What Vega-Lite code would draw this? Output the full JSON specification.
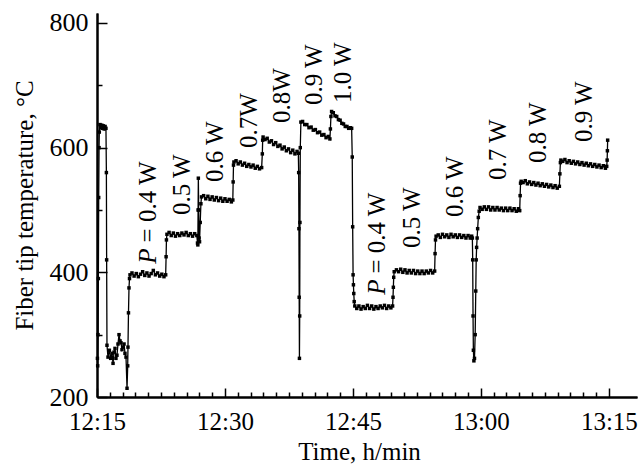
{
  "$schema": "https://vega.github.io/schema/vega-lite/v6.json",
  "width": 540,
  "height": 384,
  "autosize": {"type": "none"},
  "padding": {"left": 97, "top": 13, "right": 3, "bottom": 69},
  "background": "white",
  "config": {
    "view": {"stroke": null},
    "axis": {
      "grid": false,
      "domainColor": "black",
      "domainWidth": 2,
      "tickColor": "black",
      "tickWidth": 1.5,
      "labelFont": "Liberation Serif",
      "labelFontSize": 25,
      "labelColor": "black",
      "titleFont": "Liberation Serif",
      "titleFontSize": 25,
      "titleFontWeight": "normal",
      "titleColor": "black",
      "labelOverlap": false,
      "labelFlush": false,
      "labelBound": false
    }
  },
  "resolve": {"axis": {"x": "independent", "y": "independent"}},
  "datasets": {
    "series": [
      {"t":15.05,"T":262},{"t":15.08,"T":250},{"t":15.12,"T":300},{"t":15.16,"T":390},{"t":15.2,"T":520},{"t":15.24,"T":600},
      {"t":15.27,"T":625},{"t":15.35,"T":637},{"t":15.45,"T":632},{"t":15.55,"T":636},{"t":15.65,"T":631},{"t":15.75,"T":635},{"t":15.85,"T":630},{"t":15.95,"T":634},{"t":16.05,"T":631},
      {"t":16.1,"T":560},{"t":16.13,"T":420},{"t":16.17,"T":283},{"t":16.29,"T":264},{"t":16.45,"T":275},{"t":16.6,"T":262},{"t":16.76,"T":270},{"t":16.88,"T":254},{"t":17.0,"T":272},{"t":17.11,"T":278},{"t":17.22,"T":262},{"t":17.34,"T":267},{"t":17.46,"T":285},{"t":17.58,"T":300},{"t":17.7,"T":290},{"t":17.81,"T":287},{"t":17.93,"T":276},{"t":18.05,"T":280},{"t":18.17,"T":285},{"t":18.28,"T":270},{"t":18.4,"T":264},{"t":18.52,"T":214},{"t":18.6,"T":250},{"t":18.63,"T":280},{"t":18.69,"T":335},{"t":18.75,"T":375},{"t":18.81,"T":390},{"t":18.87,"T":396},
      {"t":19.1,"T":399},{"t":19.35,"T":394},{"t":19.6,"T":398},{"t":19.85,"T":393},{"t":20.1,"T":397},{"t":20.35,"T":401},{"t":20.6,"T":395},{"t":20.85,"T":399},{"t":21.1,"T":394},{"t":21.35,"T":398},{"t":21.6,"T":403},{"t":21.85,"T":396},{"t":22.1,"T":399},{"t":22.35,"T":394},{"t":22.6,"T":397},{"t":22.85,"T":393},{"t":23.05,"T":396},
      {"t":23.1,"T":425},{"t":23.14,"T":452},{"t":23.2,"T":461},
      {"t":23.45,"T":464},{"t":23.7,"T":459},{"t":23.95,"T":463},{"t":24.2,"T":458},{"t":24.45,"T":462},{"t":24.7,"T":459},{"t":24.95,"T":463},{"t":25.2,"T":460},{"t":25.45,"T":464},{"t":25.7,"T":459},{"t":25.95,"T":462},{"t":26.2,"T":458},{"t":26.45,"T":462},{"t":26.7,"T":459},
      {"t":26.78,"T":447},{"t":26.82,"T":444},{"t":26.85,"T":500},{"t":26.88,"T":551},{"t":26.92,"T":500},{"t":26.97,"T":455},{"t":27.02,"T":449},{"t":27.1,"T":480},{"t":27.18,"T":510},{"t":27.25,"T":521},
      {"t":27.5,"T":523},{"t":27.75,"T":518},{"t":28.0,"T":522},{"t":28.25,"T":517},{"t":28.5,"T":521},{"t":28.75,"T":516},{"t":29.0,"T":520},{"t":29.25,"T":515},{"t":29.5,"T":519},{"t":29.75,"T":514},{"t":30.0,"T":518},{"t":30.25,"T":514},{"t":30.5,"T":517},{"t":30.75,"T":513},{"t":30.92,"T":516},
      {"t":30.96,"T":545},{"t":31.0,"T":572},{"t":31.05,"T":577},
      {"t":31.3,"T":579},{"t":31.55,"T":574},{"t":31.8,"T":577},{"t":32.05,"T":572},{"t":32.3,"T":575},{"t":32.55,"T":570},{"t":32.8,"T":573},{"t":33.05,"T":569},{"t":33.3,"T":572},{"t":33.55,"T":567},{"t":33.8,"T":570},{"t":34.05,"T":566},{"t":34.3,"T":568},
      {"t":34.38,"T":590},{"t":34.42,"T":612},{"t":34.47,"T":617},
      {"t":34.7,"T":613},{"t":34.95,"T":615},{"t":35.2,"T":609},{"t":35.45,"T":611},{"t":35.7,"T":605},{"t":35.95,"T":608},{"t":36.2,"T":602},{"t":36.45,"T":604},{"t":36.7,"T":598},{"t":36.95,"T":601},{"t":37.2,"T":595},{"t":37.45,"T":598},{"t":37.7,"T":592},{"t":37.95,"T":596},{"t":38.2,"T":590},{"t":38.45,"T":594},{"t":38.6,"T":591},
      {"t":38.64,"T":560},{"t":38.67,"T":470},{"t":38.7,"T":360},{"t":38.73,"T":262},{"t":38.76,"T":330},{"t":38.79,"T":480},{"t":38.83,"T":600},{"t":38.9,"T":641},
      {"t":39.1,"T":642},{"t":39.35,"T":637},{"t":39.6,"T":637},{"t":39.85,"T":632},{"t":40.1,"T":633},{"t":40.35,"T":628},{"t":40.6,"T":629},{"t":40.85,"T":624},{"t":41.1,"T":625},{"t":41.35,"T":620},{"t":41.6,"T":621},{"t":41.85,"T":616},{"t":42.1,"T":618},{"t":42.3,"T":614},
      {"t":42.36,"T":630},{"t":42.42,"T":650},{"t":42.5,"T":658},
      {"t":42.7,"T":656},{"t":42.9,"T":651},{"t":43.1,"T":650},{"t":43.3,"T":645},{"t":43.5,"T":644},{"t":43.7,"T":639},{"t":43.9,"T":638},{"t":44.1,"T":634},{"t":44.3,"T":634},{"t":44.5,"T":631},{"t":44.7,"T":632},{"t":44.85,"T":631},
      {"t":44.92,"T":585},{"t":44.97,"T":473},{"t":45.02,"T":396},{"t":45.06,"T":380},{"t":45.1,"T":366},{"t":45.15,"T":353},{"t":45.22,"T":346},
      {"t":45.45,"T":342},{"t":45.7,"T":346},{"t":45.95,"T":341},{"t":46.2,"T":345},{"t":46.45,"T":342},{"t":46.7,"T":347},{"t":46.95,"T":342},{"t":47.2,"T":346},{"t":47.45,"T":341},{"t":47.7,"T":345},{"t":47.95,"T":342},{"t":48.2,"T":346},{"t":48.45,"T":343},{"t":48.7,"T":347},{"t":48.95,"T":342},{"t":49.2,"T":346},{"t":49.45,"T":343},{"t":49.65,"T":346},
      {"t":49.7,"T":360},{"t":49.74,"T":376},{"t":49.78,"T":392},{"t":49.84,"T":401},
      {"t":50.1,"T":404},{"t":50.35,"T":401},{"t":50.6,"T":405},{"t":50.85,"T":400},{"t":51.1,"T":404},{"t":51.35,"T":399},{"t":51.6,"T":403},{"t":51.85,"T":399},{"t":52.1,"T":403},{"t":52.35,"T":398},{"t":52.6,"T":402},{"t":52.85,"T":398},{"t":53.1,"T":402},{"t":53.35,"T":398},{"t":53.6,"T":402},{"t":53.85,"T":399},{"t":54.1,"T":403},{"t":54.35,"T":399},{"t":54.58,"T":402},
      {"t":54.63,"T":430},{"t":54.68,"T":452},{"t":54.75,"T":458},
      {"t":55.0,"T":460},{"t":55.25,"T":456},{"t":55.5,"T":461},{"t":55.75,"T":457},{"t":56.0,"T":460},{"t":56.25,"T":456},{"t":56.5,"T":461},{"t":56.75,"T":457},{"t":57.0,"T":460},{"t":57.25,"T":456},{"t":57.5,"T":460},{"t":57.75,"T":456},{"t":58.0,"T":459},{"t":58.25,"T":455},{"t":58.5,"T":459},{"t":58.75,"T":455},{"t":58.92,"T":458},
      {"t":59.0,"T":455},{"t":59.04,"T":420},{"t":59.08,"T":330},{"t":59.12,"T":275},{"t":59.18,"T":258},{"t":59.25,"T":262},{"t":59.33,"T":300},{"t":59.4,"T":370},{"t":59.45,"T":420},{"t":59.5,"T":440},{"t":59.56,"T":455},{"t":59.62,"T":470},{"t":59.7,"T":488},{"t":59.8,"T":498},{"t":59.9,"T":504},
      {"t":60.15,"T":501},{"t":60.4,"T":505},{"t":60.65,"T":501},{"t":60.9,"T":505},{"t":61.15,"T":500},{"t":61.4,"T":504},{"t":61.65,"T":500},{"t":61.9,"T":504},{"t":62.15,"T":500},{"t":62.4,"T":503},{"t":62.65,"T":499},{"t":62.9,"T":503},{"t":63.15,"T":499},{"t":63.4,"T":503},{"t":63.65,"T":499},{"t":63.9,"T":502},{"t":64.15,"T":498},{"t":64.4,"T":502},{"t":64.55,"T":499},
      {"t":64.6,"T":523},{"t":64.65,"T":543},{"t":64.72,"T":546},
      {"t":64.95,"T":544},{"t":65.2,"T":547},{"t":65.45,"T":542},{"t":65.7,"T":545},{"t":65.95,"T":541},{"t":66.2,"T":544},{"t":66.45,"T":540},{"t":66.7,"T":543},{"t":66.95,"T":539},{"t":67.2,"T":542},{"t":67.45,"T":538},{"t":67.7,"T":541},{"t":67.95,"T":537},{"t":68.2,"T":540},{"t":68.45,"T":536},{"t":68.7,"T":539},{"t":68.95,"T":535},{"t":69.2,"T":538},
      {"t":69.26,"T":558},{"t":69.32,"T":576},{"t":69.38,"T":580},
      {"t":69.6,"T":578},{"t":69.85,"T":581},{"t":70.1,"T":576},{"t":70.35,"T":579},{"t":70.6,"T":575},{"t":70.85,"T":578},{"t":71.1,"T":574},{"t":71.35,"T":577},{"t":71.6,"T":573},{"t":71.85,"T":576},{"t":72.1,"T":572},{"t":72.35,"T":575},{"t":72.6,"T":571},{"t":72.85,"T":574},{"t":73.1,"T":570},{"t":73.35,"T":573},{"t":73.6,"T":569},{"t":73.85,"T":572},{"t":74.1,"T":568},{"t":74.35,"T":571},{"t":74.6,"T":567},{"t":74.75,"T":570},
      {"t":74.8,"T":580},{"t":74.83,"T":595},{"t":74.86,"T":612}
    ],
    "labels": [
      {"x":21.9,"y":448,"label":"= 0.4 W","prefix":"P"},
      {"x":25.9,"y":492,"label":"0.5 W","prefix":""},
      {"x":29.77,"y":545,"label":"0.6 W","prefix":""},
      {"x":33.75,"y":599.5,"label":"0.7W","prefix":""},
      {"x":37.62,"y":639.6,"label":"0.8W","prefix":""},
      {"x":41.37,"y":668.5,"label":"0.9 W","prefix":""},
      {"x":44.77,"y":671.7,"label":"1.0 W","prefix":""},
      {"x":48.75,"y":398,"label":"= 0.4 W","prefix":"P"},
      {"x":52.85,"y":439,"label":"0.5 W","prefix":""},
      {"x":57.89,"y":488.8,"label":"0.6 W","prefix":""},
      {"x":62.93,"y":548,"label":"0.7 W","prefix":""},
      {"x":67.62,"y":575.4,"label":"0.8 W","prefix":""},
      {"x":73.01,"y":609,"label":"0.9 W","prefix":""}
    ]
  },
  "layer": [
    {
      "data": {"name": "series"},
      "mark": {"type": "line", "color": "black", "strokeWidth": 1.3, "point": {"filled": true, "shape": "square", "size": 12, "color": "black"}},
      "encoding": {
        "x": {
          "field": "t", "type": "quantitative",
          "scale": {"domain": [15, 78.3], "nice": false, "zero": false},
          "axis": {
            "orient": "bottom",
            "title": null,
            "values": [16.5,18,19.5,21,22.5,24,25.5,27,28.5,31.5,33,34.5,36,37.5,39,40.5,42,43.5,46.5,48,49.5,51,52.5,54,55.5,57,58.5,61.5,63,64.5,66,67.5,69,70.5,72,73.5],
            "tickSize": -5,
            "labels": false
          }
        },
        "y": {
          "field": "T", "type": "quantitative",
          "scale": {"domain": [200, 816], "nice": false, "zero": false},
          "axis": {
            "orient": "left",
            "title": null,
            "values": [300, 500, 700],
            "tickSize": -5,
            "labels": false
          }
        }
      }
    },
    {
      "data": {"name": "labels"},
      "mark": {"type": "text", "angle": 270, "align": "left", "baseline": "alphabetic", "font": "Liberation Serif", "fontSize": 25, "color": "black"},
      "encoding": {
        "x": {
          "field": "x", "type": "quantitative",
          "scale": {"domain": [15, 78.3], "nice": false, "zero": false},
          "axis": {
            "orient": "bottom",
            "title": "Time, h/min",
            "titleX": 262, "titleY": 62, "titleBaseline": "alphabetic", "titleAlign": "center",
            "values": [15, 30, 45, 60, 75],
            "tickSize": -9,
            "labelExpr": "(12 + floor(datum.value / 60)) + ':' + (datum.value % 60 == 0 ? '00' : '' + (datum.value % 60))",
            "labelPadding": 21,
            "labelOverlap": false
          }
        },
        "y": {
          "field": "y", "type": "quantitative",
          "scale": {"domain": [200, 816], "nice": false, "zero": false},
          "axis": {
            "orient": "left",
            "title": "Fiber tip temperature, °C",
            "titleX": -65, "titleY": 192, "titleAngle": 270, "titleBaseline": "alphabetic", "titleAlign": "center",
            "values": [200, 400, 600, 800],
            "tickSize": -10,
            "labelPadding": 19,
            "labelFontSize": 26,
            "labelOverlap": false
          }
        },
        "text": {"field": "label"}
      }
    },
    {
      "data": {"name": "labels"},
      "transform": [{"filter": "datum.prefix == 'P'"}],
      "mark": {"type": "text", "angle": 270, "align": "right", "baseline": "alphabetic", "font": "Liberation Serif", "fontStyle": "italic", "fontSize": 25, "color": "black", "dx": -6},
      "encoding": {
        "x": {"field": "x", "type": "quantitative", "axis": null},
        "y": {"field": "y", "type": "quantitative", "axis": null},
        "text": {"field": "prefix"}
      }
    }
  ]
}
